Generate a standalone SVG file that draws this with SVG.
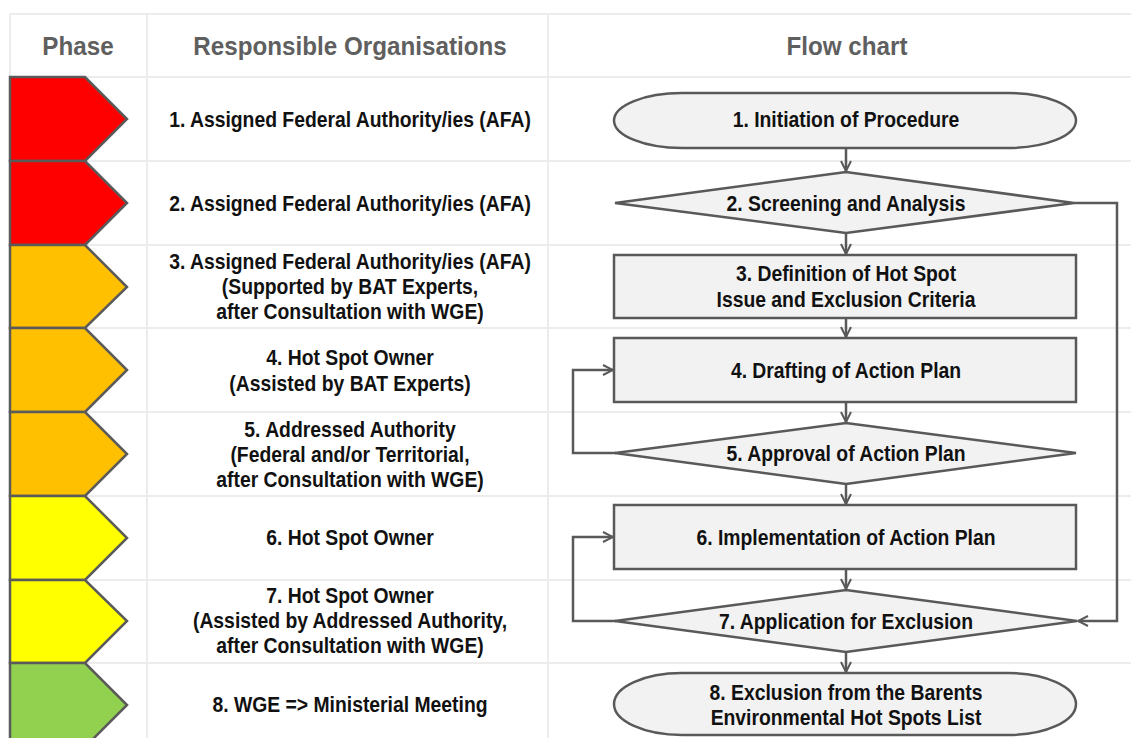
<svg xmlns="http://www.w3.org/2000/svg" width="1131" height="738" viewBox="0 0 1131 738">
<style>
.grid{stroke:#ececec;stroke-width:2;fill:none}
.hdr{font-family:"Liberation Sans",Arial,sans-serif;font-weight:bold;font-size:25.5px;fill:#5f5f5f;text-anchor:middle;dominant-baseline:central}
.t{font-family:"Liberation Sans",Arial,sans-serif;font-weight:bold;font-size:21.5px;fill:#111;text-anchor:middle;dominant-baseline:central}
.ph{stroke:#5a5a5a;stroke-width:2.5;stroke-linejoin:miter}
.shape{fill:#f2f2f2;stroke:#595959;stroke-width:2.5}
.conn{fill:none;stroke:#595959;stroke-width:2.5}
</style>
<defs>
<marker id="arr" viewBox="0 0 12 12" refX="11" refY="6" markerWidth="12" markerHeight="12" markerUnits="userSpaceOnUse" orient="auto">
<path d="M1,1 L11,6 L1,11" fill="none" stroke="#595959" stroke-width="2"/>
</marker>
</defs>
<rect width="1131" height="738" fill="#fff"/>
<g id="grid">
<path class="grid" d="M10,14 H1131 M10,77 H1131 M10,161 H1131 M10,245 H1131 M10,328 H1131 M10,412 H1131 M10,496 H1131 M10,580 H1131 M10,663 H1131 M10,14 V77 M147,14 V738 M548,14 V738"/>
</g>
<g id="headers">
<text class="hdr" transform="translate(78 46) scale(0.95 1)">Phase</text>
<text class="hdr" transform="translate(350 46) scale(0.95 1)">Responsible Organisations</text>
<text class="hdr" transform="translate(847 46) scale(0.95 1)">Flow chart</text>
</g>
<g id="phases">
<polygon class="ph" fill="#ff0000" points="10,77 85,77 127,119 85,161 10,161"/>
<polygon class="ph" fill="#ff0000" points="10,161 85,161 127,203 85,245 10,245"/>
<polygon class="ph" fill="#ffc000" points="10,245 85,245 127,287 85,328 10,328"/>
<polygon class="ph" fill="#ffc000" points="10,328 85,328 127,370 85,412 10,412"/>
<polygon class="ph" fill="#ffc000" points="10,412 85,412 127,454 85,496 10,496"/>
<polygon class="ph" fill="#ffff00" points="10,496 85,496 127,538 85,580 10,580"/>
<polygon class="ph" fill="#ffff00" points="10,580 85,580 127,621 85,663 10,663"/>
<polygon class="ph" fill="#92d050" points="10,663 85,663 127,705 85,747 10,747"/>
</g>
<g id="orgs" transform="translate(350 0) scale(0.9 1)">
<text class="t" x="0" y="119">1. Assigned Federal Authority/ies (AFA)</text>
<text class="t" x="0" y="203">2. Assigned Federal Authority/ies (AFA)</text>
<text class="t" x="0" y="261">3. Assigned Federal Authority/ies (AFA)</text>
<text class="t" x="0" y="286">(Supported by BAT Experts,</text>
<text class="t" x="0" y="311">after Consultation with WGE)</text>
<text class="t" x="0" y="357">4. Hot Spot Owner</text>
<text class="t" x="0" y="383">(Assisted by BAT Experts)</text>
<text class="t" x="0" y="429">5. Addressed Authority</text>
<text class="t" x="0" y="454">(Federal and/or Territorial,</text>
<text class="t" x="0" y="479">after Consultation with WGE)</text>
<text class="t" x="0" y="537">6. Hot Spot Owner</text>
<text class="t" x="0" y="595">7. Hot Spot Owner</text>
<text class="t" x="0" y="620">(Assisted by Addressed Authority,</text>
<text class="t" x="0" y="645">after Consultation with WGE)</text>
<text class="t" x="0" y="704">8. WGE =&gt; Ministerial Meeting</text>
</g>
<g id="connectors">
<line class="conn" x1="846" y1="148" x2="846" y2="171" marker-end="url(#arr)"/>
<line class="conn" x1="846" y1="233" x2="846" y2="254" marker-end="url(#arr)"/>
<line class="conn" x1="846" y1="318" x2="846" y2="337" marker-end="url(#arr)"/>
<line class="conn" x1="846" y1="402" x2="846" y2="422" marker-end="url(#arr)"/>
<line class="conn" x1="846" y1="484" x2="846" y2="504" marker-end="url(#arr)"/>
<line class="conn" x1="846" y1="569" x2="846" y2="589" marker-end="url(#arr)"/>
<line class="conn" x1="846" y1="652" x2="846" y2="672" marker-end="url(#arr)"/>
<path class="conn" d="M1074,203 H1117 V621 H1078" marker-end="url(#arr)"/>
<path class="conn" d="M616,453 H573 V370 H613" marker-end="url(#arr)"/>
<path class="conn" d="M616,621 H573 V537 H613" marker-end="url(#arr)"/>
</g>
<g id="n1">
<rect class="shape" x="614" y="93" width="462" height="55" rx="68" ry="27.5"/>
<text class="t" transform="translate(846 119) scale(0.9 1)">1. Initiation of Procedure</text>
</g>
<g id="n2">
<polygon class="shape" points="615,203 846,172 1074,203 846,233"/>
<text class="t" transform="translate(846 203) scale(0.9 1)">2. Screening and Analysis</text>
</g>
<g id="n3">
<rect class="shape" x="614" y="255" width="462" height="63"/>
<text class="t" transform="translate(846 273) scale(0.9 1)">3. Definition of Hot Spot</text>
<text class="t" transform="translate(846 299) scale(0.9 1)">Issue and Exclusion Criteria</text>
</g>
<g id="n4">
<rect class="shape" x="614" y="338" width="462" height="64"/>
<text class="t" transform="translate(846 370) scale(0.9 1)">4. Drafting of Action Plan</text>
</g>
<g id="n5">
<polygon class="shape" points="615,453 846,423 1076,453 846,484"/>
<text class="t" transform="translate(846 453) scale(0.9 1)">5. Approval of Action Plan</text>
</g>
<g id="n6">
<rect class="shape" x="614" y="505" width="462" height="64"/>
<text class="t" transform="translate(846 537) scale(0.9 1)">6. Implementation of Action Plan</text>
</g>
<g id="n7">
<polygon class="shape" points="615,621 846,590 1077,621 846,652"/>
<text class="t" transform="translate(846 621) scale(0.9 1)">7. Application for Exclusion</text>
</g>
<g id="n8">
<rect class="shape" x="614" y="673" width="462" height="62" rx="68" ry="31"/>
<text class="t" transform="translate(846 692) scale(0.9 1)">8. Exclusion from the Barents</text>
<text class="t" transform="translate(846 717) scale(0.9 1)">Environmental Hot Spots List</text>
</g>
</svg>
